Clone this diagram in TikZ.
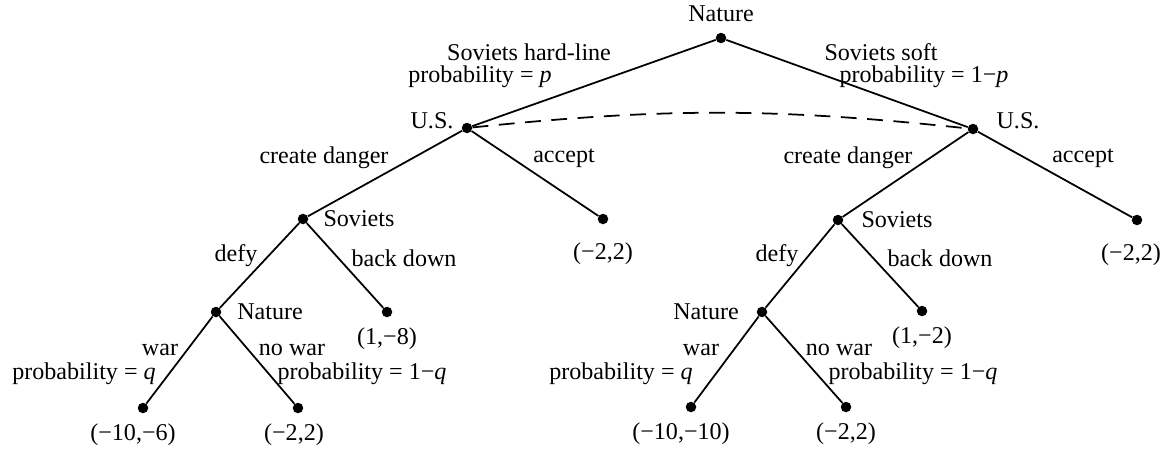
\documentclass[tikz,border=0pt]{standalone}
\usepackage{fontspec}
\setmainfont{Liberation Serif}
\usepackage{tikz}
\usetikzlibrary{positioning}

\begin{document}
\begin{tikzpicture}[
    x=0.02cm, y=-0.02cm,
    dot/.style={
        circle, fill=black, inner sep=0pt, minimum size=0.21cm
    },
    lbl/.style={
        inner sep=0pt, font=\fontsize{13.7}{16}\selectfont
    },
    branch/.style={line width=1pt}
]
\useasboundingbox (0,0) rectangle (1172,454);

% Decision nodes
\node[dot] (root) at (721,38) {};
\node[dot] (usL) at (467,128) {};
\node[dot] (usR) at (973,129) {};
\node[dot] (sovL) at (303,219) {};
\node[dot] (accL) at (603,219) {};
\node[dot] (sovR) at (838,220) {};
\node[dot] (accR) at (1137,220) {};
\node[dot] (natL) at (216,312) {};
\node[dot] (backL) at (387,312) {};
\node[dot] (natR) at (762,312) {};
\node[dot] (backR) at (922,311) {};
\node[dot] (warL) at (143,408) {};
\node[dot] (peaceL) at (298,408) {};
\node[dot] (warR) at (691,407) {};
\node[dot] (peaceR) at (846,407) {};

% Branches
\draw[branch] (root) -- (usL);
\draw[branch] (root) -- (usR);
\draw[branch] (usL) -- (sovL);
\draw[branch] (usL) -- (accL);
\draw[branch] (usR) -- (sovR);
\draw[branch] (usR) -- (accR);
\draw[branch] (sovL) -- (natL);
\draw[branch] (sovL) -- (backL);
\draw[branch] (sovR) -- (natR);
\draw[branch] (sovR) -- (backR);
\draw[branch] (natL) -- (warL);
\draw[branch] (natL) -- (peaceL);
\draw[branch] (natR) -- (warR);
\draw[branch] (natR) -- (peaceR);

% Information set
\draw[branch, dashed, dash pattern=on 9pt off 6pt] (usL) to[bend left=6] (usR);

% Player labels
\node[lbl] (tRoot) at (721,14) {Nature};
\node[lbl] (tUsL) at (432,121) {U.S.};
\node[lbl] (tUsR) at (1018,121) {U.S.};
\node[lbl] (tSovL) at (359,219) {Soviets};
\node[lbl] (tSovR) at (897,220) {Soviets};
\node[lbl] (tNatL) at (270,312) {Nature};
\node[lbl] (tNatR) at (706,312) {Nature};

% Action labels
\node[lbl] (hard) at (529,52) {Soviets hard-line};
\node[lbl] (hardP) at (480,77) {probability = \textit{p}};
\node[lbl] (soft) at (881,52) {Soviets soft};
\node[lbl] (softP) at (924,77) {probability = 1−\textit{p}};
\node[lbl] (cdL) at (324,158) {create danger};
\node[lbl] (acL) at (564,158) {accept};
\node[lbl] (cdR) at (848,158) {create danger};
\node[lbl] (acR) at (1083,158) {accept};
\node[lbl] (dfL) at (236,256) {defy};
\node[lbl] (bdL) at (404,258) {back down};
\node[lbl] (dfR) at (777,256) {defy};
\node[lbl] (bdR) at (940,258) {back down};
\node[lbl] (wL) at (160,350) {war};
\node[lbl] (wLP) at (84,374) {probability = \textit{q}};
\node[lbl] (nwL) at (292,350) {no war};
\node[lbl] (nwLP) at (362,374) {probability = 1−\textit{q}};
\node[lbl] (wR) at (701,350) {war};
\node[lbl] (wRP) at (621,374) {probability = \textit{q}};
\node[lbl] (nwR) at (839,350) {no war};
\node[lbl] (nwRP) at (913,374) {probability = 1−\textit{q}};

% Payoffs
\node[lbl, below=10pt of accL] (payAccL) {(−2,2)};
\node[lbl, below=10pt of accR, xshift=-0.12cm] (payAccR) {(−2,2)};
\node[lbl, below=5.5pt of backL] (payBackL) {(1,−8)};
\node[lbl, below=5.5pt of backR] (payBackR) {(1,−2)};
\node[lbl, below=5.5pt of warL, xshift=-0.2cm] (payWarL) {(−10,−6)};
\node[lbl, below=5.5pt of peaceL, xshift=-0.08cm] (payPeaceL) {(−2,2)};
\node[lbl, below=5.5pt of warR, xshift=-0.2cm] (payWarR) {(−10,−10)};
\node[lbl, below=5.5pt of peaceR] (payPeaceR) {(−2,2)};

\end{tikzpicture}
\end{document}
